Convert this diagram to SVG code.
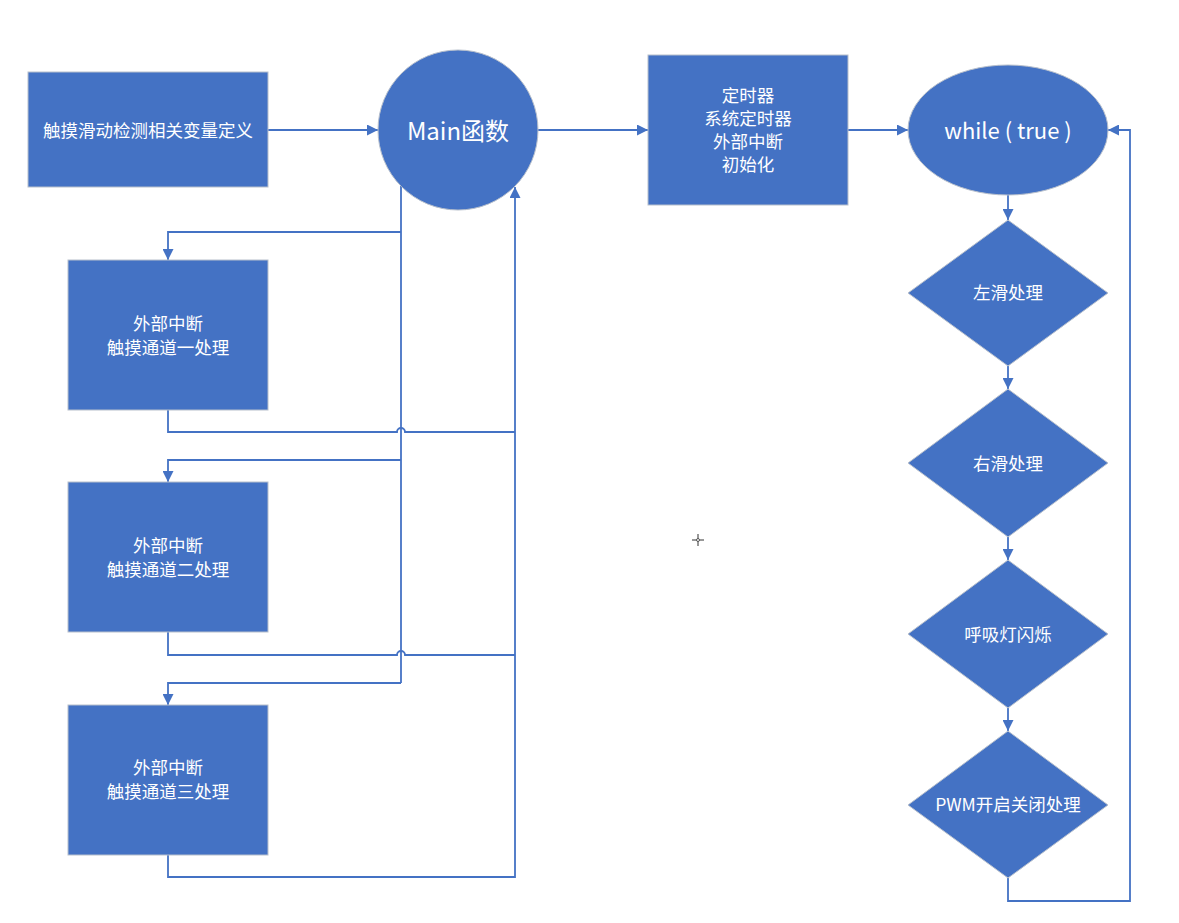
<svg xmlns="http://www.w3.org/2000/svg" width="1179" height="923" viewBox="0 0 1179 923">
<defs>
<marker id="ah" viewBox="0 0 10 10" refX="10" refY="5" markerWidth="11" markerHeight="11" markerUnits="userSpaceOnUse" orient="auto">
<path d="M0,0 L10,5 L0,10 Z" fill="#4472C4"/>
</marker>
<style>
.shape{fill:#4472C4;stroke:#b8c0cc;stroke-width:1}
.t{fill:#ffffff;font-family:"Noto Sans CJK SC","Noto Sans",sans-serif;font-size:17.5px;text-anchor:middle;dominant-baseline:central}
.big{font-size:24px}
.mid{font-size:22px}
.c{fill:none;stroke:#4472C4;stroke-width:1.8}
</style>
</defs>
<rect width="1179" height="923" fill="#ffffff"/>
<g id="connectors">
<path class="c" d="M268,130 H378" marker-end="url(#ah)"/>
<path class="c" d="M538,130 H648" marker-end="url(#ah)"/>
<path class="c" d="M848,130 H908" marker-end="url(#ah)"/>
<path class="c" d="M1008,195 V220" marker-end="url(#ah)"/>
<path class="c" d="M1008,366 V389" marker-end="url(#ah)"/>
<path class="c" d="M1008,537 V560" marker-end="url(#ah)"/>
<path class="c" d="M1008,708 V731" marker-end="url(#ah)"/>
<path class="c" d="M1008,878 V901 H1130 V130 H1108" marker-end="url(#ah)"/>
<path class="c" d="M401,186 V683"/>
<path class="c" d="M401,232 H168 V260" marker-end="url(#ah)"/>
<path class="c" d="M401,460 H168 V482" marker-end="url(#ah)"/>
<path class="c" d="M401,683 H168 V705" marker-end="url(#ah)"/>
<path class="c" d="M168,410 V432 H397 A4,4 0 0 1 405,432 H515"/>
<path class="c" d="M168,632 V655 H397 A4,4 0 0 1 405,655 H515"/>
<path class="c" d="M168,855 V877 H515 V187" marker-end="url(#ah)"/>
</g>
<g id="vars">
<rect class="shape" x="28" y="72" width="240" height="115"/>
<text class="t" x="148" y="129">触摸滑动检测相关变量定义</text>
</g>
<g id="main">
<circle class="shape" cx="458" cy="130" r="80"/>
<text class="t big" x="458" y="129">Main函数</text>
</g>
<g id="init">
<rect class="shape" x="648" y="55" width="200" height="150"/>
<text class="t" x="748" y="94">定时器</text>
<text class="t" x="748" y="117">系统定时器</text>
<text class="t" x="748" y="140">外部中断</text>
<text class="t" x="748" y="163">初始化</text>
</g>
<g id="while">
<ellipse class="shape" cx="1008" cy="130" rx="100" ry="65"/>
<text class="t mid" x="1008" y="129">while ( true )</text>
</g>
<g id="left">
<polygon class="shape" points="1008,220 1108,293 1008,366 908,293"/>
<text class="t" x="1008" y="291">左滑处理</text>
</g>
<g id="right">
<polygon class="shape" points="1008,389 1108,463 1008,537 908,463"/>
<text class="t" x="1008" y="462">右滑处理</text>
</g>
<g id="breath">
<polygon class="shape" points="1008,560 1108,634 1008,708 908,634"/>
<text class="t" x="1008" y="633">呼吸灯闪烁</text>
</g>
<g id="pwm">
<polygon class="shape" points="1008,731 1108,805 1008,878 908,805"/>
<text class="t" x="1008" y="803">PWM开启关闭处理</text>
</g>
<g id="ch1">
<rect class="shape" x="68" y="260" width="200" height="150"/>
<text class="t" x="168" y="322">外部中断</text>
<text class="t" x="168" y="346">触摸通道一处理</text>
</g>
<g id="ch2">
<rect class="shape" x="68" y="482" width="200" height="150"/>
<text class="t" x="168" y="544">外部中断</text>
<text class="t" x="168" y="568">触摸通道二处理</text>
</g>
<g id="ch3">
<rect class="shape" x="68" y="705" width="200" height="150"/>
<text class="t" x="168" y="766">外部中断</text>
<text class="t" x="168" y="790">触摸通道三处理</text>
</g>
<g id="cursor">
<path d="M692,540 H696.5 M699.5,540 H704 M698,534 V538.5 M698,541.5 V546" stroke="#333" stroke-width="1" fill="none"/>
<circle cx="698" cy="540" r="1.5" fill="none" stroke="#333" stroke-width="0.8"/>
</g>
</svg>
